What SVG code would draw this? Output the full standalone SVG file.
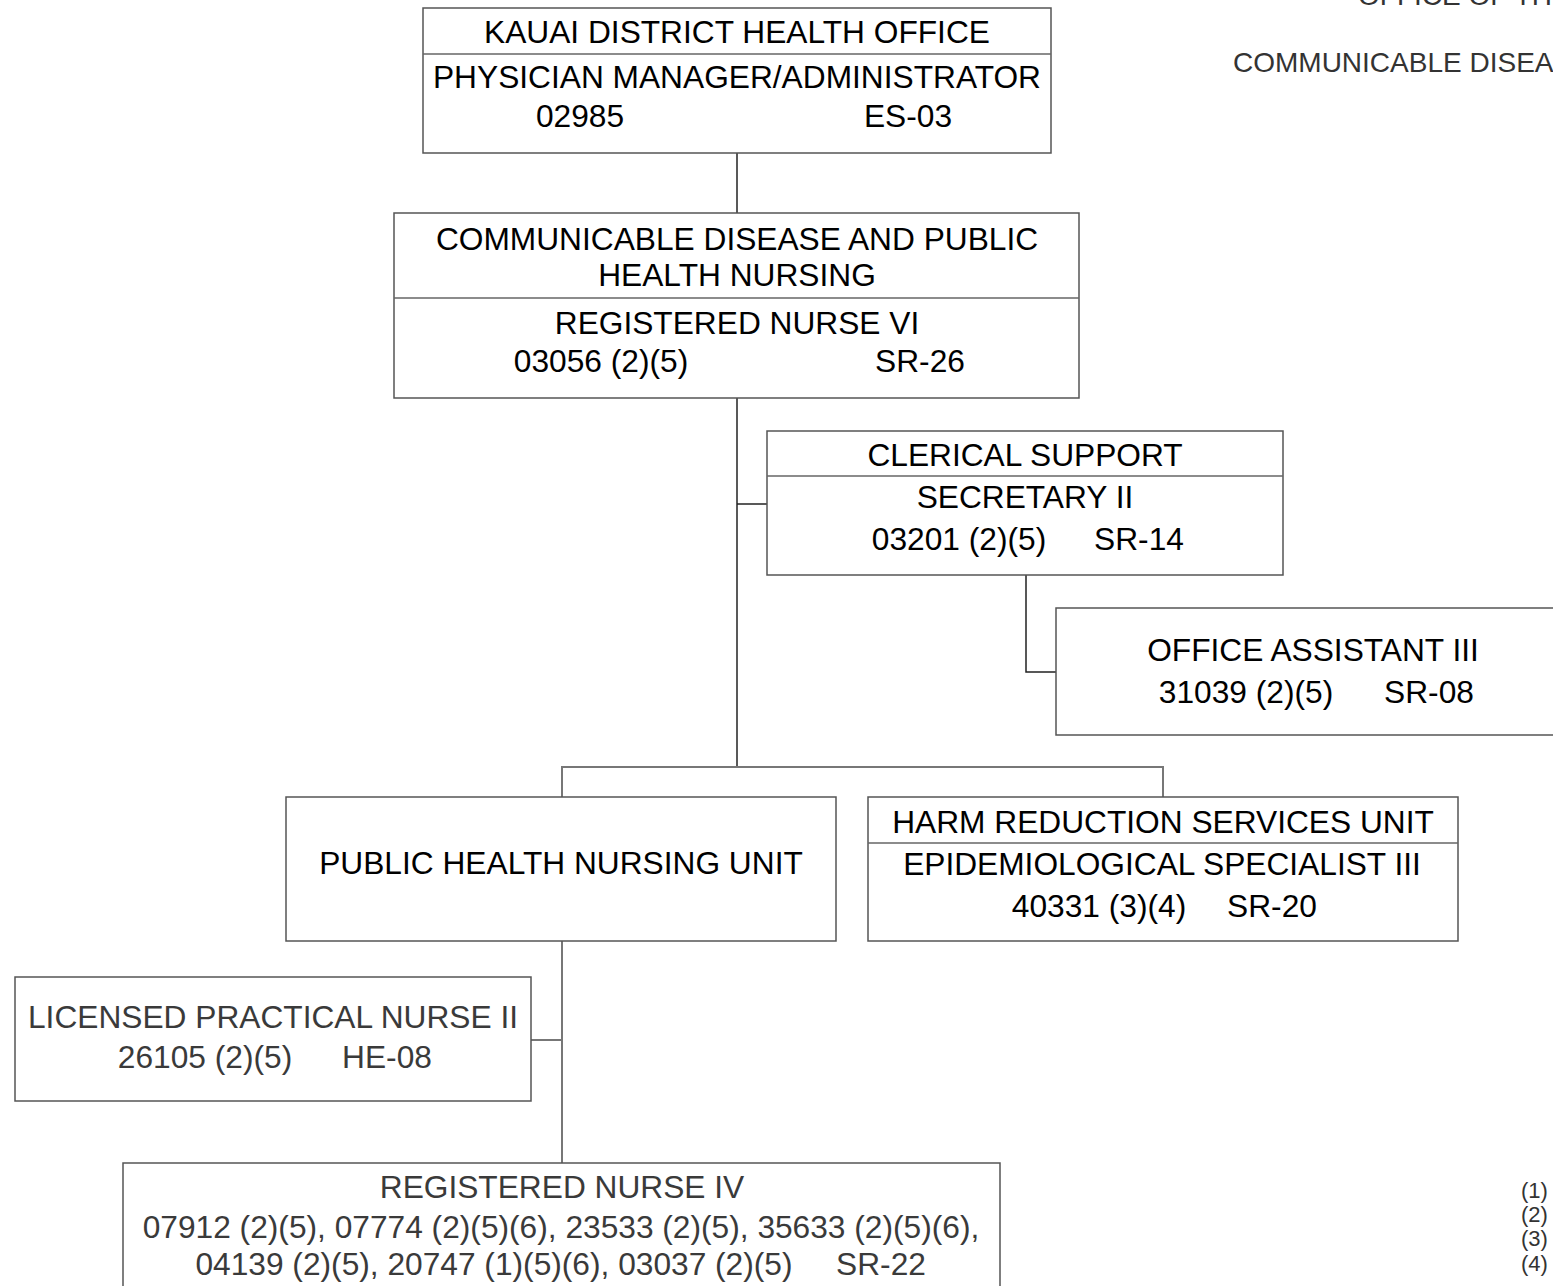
<svg xmlns="http://www.w3.org/2000/svg" width="1553" height="1286" viewBox="0 0 1553 1286">
<style>
.box{fill:#fff;stroke:#555;stroke-width:1.5}
.div{stroke:#666;stroke-width:1.5}
.t{font-family:"Liberation Sans",Arial,sans-serif;font-size:31.7px;fill:#000;text-anchor:middle}
.g{fill:#3a3a3a}
.hdr{font-family:"Liberation Sans",Arial,sans-serif;font-size:28px;fill:#333}
.fn{font-family:"Liberation Sans",Arial,sans-serif;font-size:22px;fill:#333}
.c{stroke:#222;stroke-width:1.5;fill:none}
.cg{stroke:#777;stroke-width:2;fill:none}
</style>
<rect width="1553" height="1286" fill="#fff"/>
<g id="header">
<text class="hdr" x="1358" y="5">OFFICE OF TH</text>
<text class="hdr" x="1233" y="72">COMMUNICABLE DISEA</text>
</g>
<g id="footnotes">
<text class="fn" x="1521" y="1198">(1)</text>
<text class="fn" x="1521" y="1222">(2)</text>
<text class="fn" x="1521" y="1246">(3)</text>
<text class="fn" x="1521" y="1271">(4)</text>
</g>
<g id="connectors">
<path class="c" d="M737 153V213"/>
<path class="c" d="M737 398V767"/>
<path class="c" d="M737 504H767"/>
<path class="c" d="M1026 575V672H1056"/>
<path class="cg" d="M562 797V767H1163V797"/>
<path class="cg" d="M562 941V1163"/>
<path class="cg" d="M531 1040H562"/>
</g>
<g id="kauai">
<rect class="box" x="423" y="8" width="628" height="145"/>
<line class="div" x1="423" y1="54" x2="1051" y2="54"/>
<text class="t" x="737" y="43">KAUAI DISTRICT HEALTH OFFICE</text>
<text class="t" x="737" y="88">PHYSICIAN MANAGER/ADMINISTRATOR</text>
<text class="t" x="580" y="127">02985</text>
<text class="t" x="908" y="127">ES-03</text>
</g>
<g id="cdphn">
<rect class="box" x="394" y="213" width="685" height="185"/>
<line class="div" x1="394" y1="298" x2="1079" y2="298"/>
<text class="t" x="737" y="250">COMMUNICABLE DISEASE AND PUBLIC</text>
<text class="t" x="737" y="286">HEALTH NURSING</text>
<text class="t" x="737" y="334">REGISTERED NURSE VI</text>
<text class="t" x="601" y="372">03056 (2)(5)</text>
<text class="t" x="920" y="372">SR-26</text>
</g>
<g id="clerical">
<rect class="box" x="767" y="431" width="516" height="144"/>
<line class="div" x1="767" y1="476" x2="1283" y2="476"/>
<text class="t" x="1025" y="466">CLERICAL SUPPORT</text>
<text class="t" x="1025" y="508">SECRETARY II</text>
<text class="t" x="959" y="550">03201 (2)(5)</text>
<text class="t" x="1139" y="550">SR-14</text>
</g>
<g id="officeassistant">
<rect class="box" x="1056" y="608" width="510" height="127"/>
<text class="t" x="1313" y="661">OFFICE ASSISTANT III</text>
<text class="t" x="1246" y="703">31039 (2)(5)</text>
<text class="t" x="1429" y="703">SR-08</text>
</g>
<g id="phnunit">
<rect class="box" x="286" y="797" width="550" height="144"/>
<text class="t" x="561" y="874">PUBLIC HEALTH NURSING UNIT</text>
</g>
<g id="harmreduction">
<rect class="box" x="868" y="797" width="590" height="144"/>
<line class="div" x1="868" y1="843" x2="1458" y2="843"/>
<text class="t" x="1163" y="833">HARM REDUCTION SERVICES UNIT</text>
<text class="t" x="1162" y="875">EPIDEMIOLOGICAL SPECIALIST III</text>
<text class="t" x="1099" y="917">40331 (3)(4)</text>
<text class="t" x="1272" y="917">SR-20</text>
</g>
<g id="lpn">
<rect class="box" x="15" y="977" width="516" height="124"/>
<text class="t g" x="273" y="1028">LICENSED PRACTICAL NURSE II</text>
<text class="t g" x="205" y="1068">26105 (2)(5)</text>
<text class="t g" x="387" y="1068">HE-08</text>
</g>
<g id="rn4">
<rect class="box" x="123" y="1163" width="877" height="140"/>
<text class="t g" x="562" y="1198">REGISTERED NURSE IV</text>
<text class="t g" x="561" y="1238">07912 (2)(5), 07774 (2)(5)(6), 23533 (2)(5), 35633 (2)(5)(6),</text>
<text class="t g" x="494" y="1275">04139 (2)(5), 20747 (1)(5)(6), 03037 (2)(5)</text>
<text class="t g" x="881" y="1275">SR-22</text>
</g>
</svg>
